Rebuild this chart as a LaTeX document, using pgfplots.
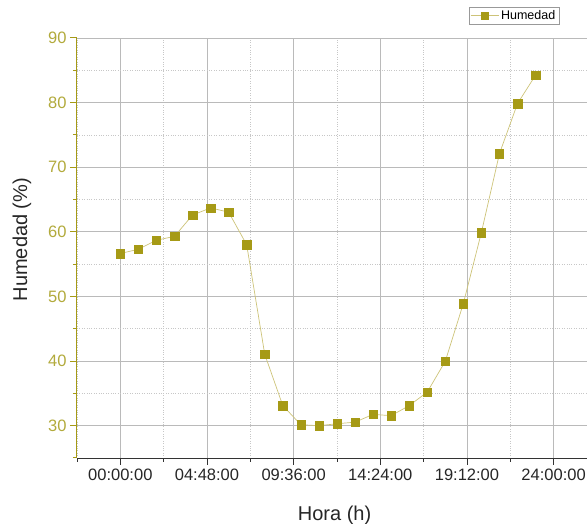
\documentclass[border=0pt]{standalone}
\usepackage{fontspec}
\setmainfont{Liberation Sans}
\usepackage{pgfplots}
\pgfplotsset{compat=1.18}
\usetikzlibrary{calc}
\definecolor{olivem}{RGB}{166,154,22}
\definecolor{olivet}{RGB}{178,170,60}
\definecolor{oliveline}{RGB}{205,195,120}
\begin{document}
\begin{tikzpicture}
\begin{axis}[name=ax, scale only axis, width=510pt, height=420pt,
 xmin=-2.4, xmax=25.85, ymin=25, ymax=90,
 axis x line*=bottom, axis y line*=left,
 xtick={0,4.8,9.6,14.4,19.2,24},
 xticklabels={00:00:00,04:48:00,09:36:00,14:24:00,19:12:00,24:00:00},
 minor xtick={-2.4,2.4,7.2,12,16.8,21.6},
 ytick={30,40,...,90},
 minor ytick={25,35,...,85},
 grid=both,
 major grid style={black!27, line width=0.7pt},
 minor grid style={black!22, dotted, line width=0.7pt},
 tick align=outside,
 major tick length=7pt, minor tick length=4pt,
 x axis line style={black!80, line width=0.8pt},
 y axis line style={olivem, line width=1pt},
 every x tick/.append style={black!80, line width=0.8pt},
 every y tick/.append style={olivem, line width=1pt},
 /pgf/number format/assume math mode=true,
 xticklabel style={font=\fontsize{16.5}{18}\selectfont, text=black!85},
 yticklabel style={font=\fontsize{16.5}{18}\selectfont, text=olivet},
 every axis x label/.style={at={(axis description cs:0.505,-0.136)}, anchor=center},
 every axis y label/.style={at={(axis description cs:-0.108,0.52)}, anchor=center, rotate=90},
 xlabel={Hora (h)}, ylabel={Humedad (\%)},
 label style={font=\fontsize{20}{22}\selectfont, text=black!85},
 legend style={at={(0.945,1.0745)}, anchor=north east, draw=black!40, font=\fontsize{12.5}{13}\selectfont, inner sep=1.5pt, legend cell align=left},
 legend image code/.code={\draw[mark repeat=2, mark phase=2, mark size=3.5pt] plot coordinates {(0pt,0pt) (14pt,0pt) (28pt,0pt)};},
]
\addplot[color=oliveline, line width=0.7pt, mark=square*, mark size=4.2pt, mark options={fill=olivem, draw=olivem, line width=0.3pt}] table {
x y
0 56.65
1 57.3
2 58.7
3 59.3
4 62.6
5 63.7
6 63.05
7 58.0
8 41.05
9 33.1
10 30.15
11 30.0
12 30.3
13 30.55
14 31.75
15 31.55
16 33.1
17 35.2
18 39.97
19 48.9
20 59.9
21 72.1
22 79.85
23 84.24
};
\addlegendentry{Humedad}
\end{axis}
\pgfresetboundingbox
\path[use as bounding box] ($(ax.south west)+(-77pt,-66pt)$) rectangle ($(ax.north east)+(0pt,38pt)$);
\end{tikzpicture}
\end{document}
